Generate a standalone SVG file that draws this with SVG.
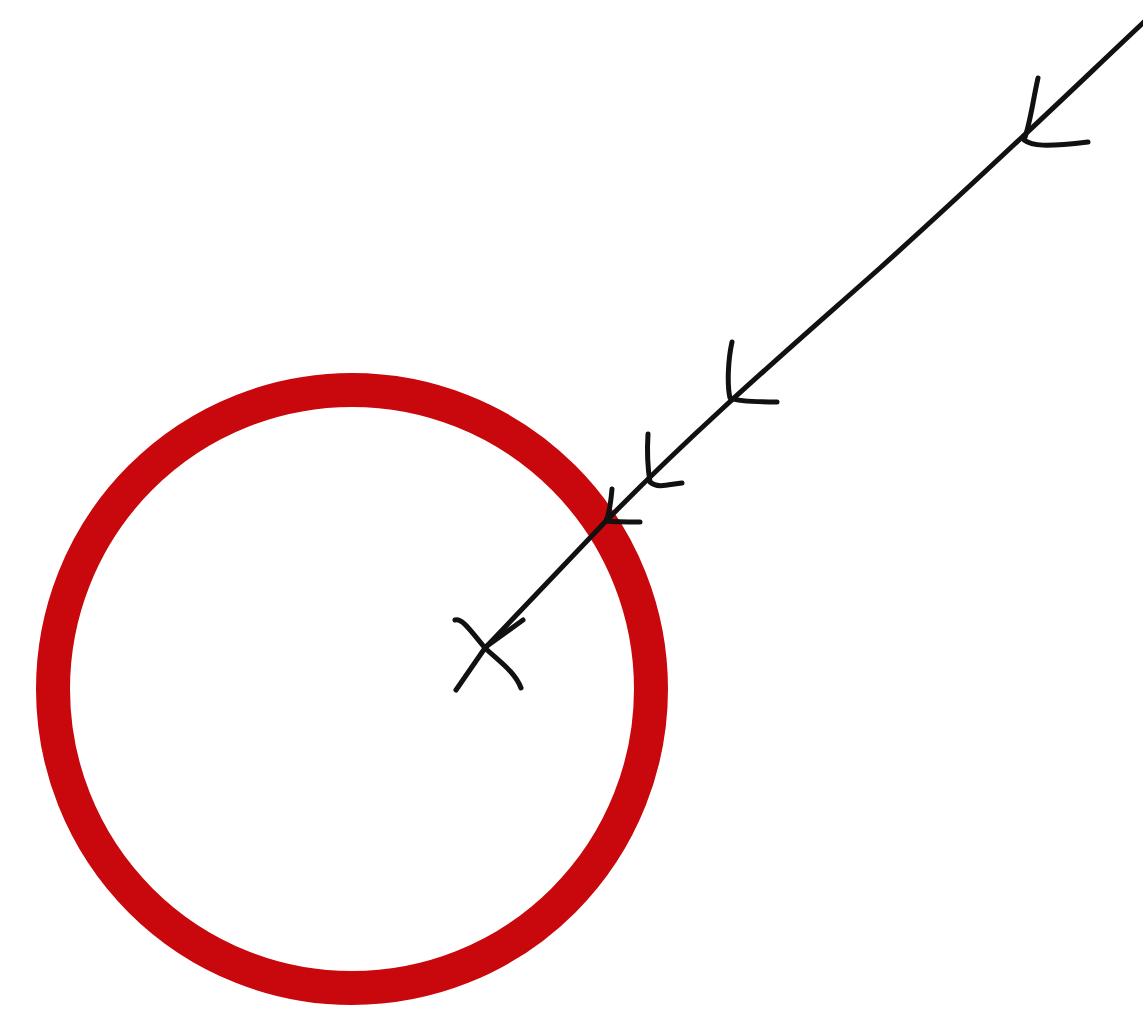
<svg xmlns="http://www.w3.org/2000/svg" width="1143" height="1012" viewBox="0 0 1143 1012">
<style>
.ink{fill:none;stroke:#111;stroke-width:5;stroke-linecap:round;stroke-linejoin:round}
.ring{fill:none;stroke:#c8080c;stroke-width:34}
</style>
<rect width="1143" height="1012" fill="#fff"/>
<g id="circle">
<circle class="ring" cx="352" cy="689" r="299"/>
</g>
<g id="connectors">
<path class="ink" d="M1146,20 C1080,82 1000,160 880,268 C790,348 700,425 606,521 L485,648 L456,690"/>
<path class="ink" d="M1038,78 C1033,100 1030,125 1024,140 C1032,146 1045,147 1088,142"/>
<path class="ink" d="M732,342 C728,360 727,385 730,398 C740,402 760,402 777,402"/>
<path class="ink" d="M648,434 C647,450 648,470 650,482 C658,489 670,484 682,483"/>
<path class="ink" d="M612,489 C611,500 610,512 606,521 C616,522 628,522 640,522"/>
<path class="ink" d="M455,620 C462,618 470,630 485,648 C500,662 515,672 521,688"/>
<path class="ink" d="M487,646 L523,620"/>
</g>
</svg>
